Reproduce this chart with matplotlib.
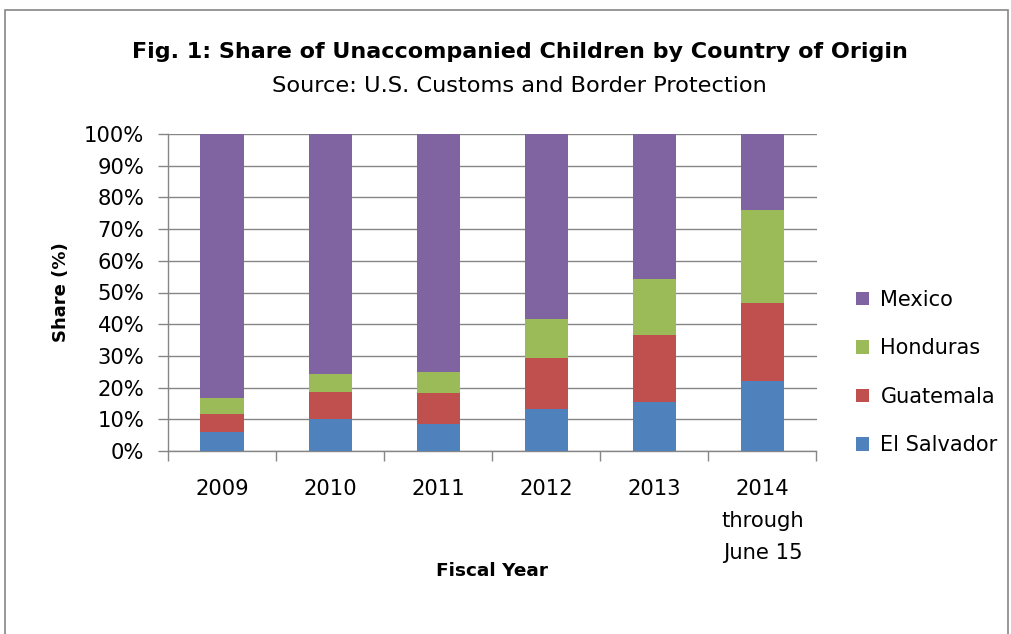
import matplotlib
matplotlib.use("Agg")
import matplotlib.pyplot as plt
from matplotlib.patches import Patch, Rectangle
from matplotlib.ticker import FixedLocator, PercentFormatter
import numpy as np

YEARS = ["2009", "2010", "2011", "2012", "2013", "2014\nthrough\nJune 15"]
EL_SALVADOR = [6.1, 10.2, 8.6, 13.3, 15.6, 22.0]
GUATEMALA = [5.7, 8.4, 9.8, 16.0, 21.0, 24.7]
HONDURAS = [4.9, 5.6, 6.4, 12.4, 17.8, 29.3]
MEXICO = [83.3, 75.8, 75.2, 58.3, 45.6, 24.0]

SERIES = [
    ("El Salvador", EL_SALVADOR, "#4f81bd"),
    ("Guatemala", GUATEMALA, "#c0504d"),
    ("Honduras", HONDURAS, "#9bbb59"),
    ("Mexico", MEXICO, "#8064a2"),
]

W, H = 1011, 634
plt.rcParams.update({"font.family": "DejaVu Sans", "text.color": "black"})
fig = plt.figure(figsize=(W / 100, H / 100), dpi=100, facecolor="white")
ax = fig.add_axes([168 / W, 1 - 451 / H, (816.5 - 168) / W, (451 - 134) / H])

grey = "#868686"
x = np.arange(len(YEARS))
bottom = np.zeros(len(YEARS))
for name, values, color in SERIES:
    ax.bar(x, values, width=0.4, bottom=bottom, color=color, linewidth=0, zorder=3)
    bottom += np.array(values)

ax.set_xlim(-0.5, len(YEARS) - 0.5)
ax.set_ylim(0, 100)
ax.set_yticks(np.arange(0, 101, 10))
ax.yaxis.set_major_formatter(PercentFormatter(decimals=0))
ax.grid(axis="y", color=grey, linewidth=1.0, zorder=0)
ax.set_axisbelow(True)

ax.set_xticks(x)
ax.set_xticklabels(YEARS, linespacing=1.75)
ax.xaxis.set_minor_locator(FixedLocator(np.arange(-0.5, len(YEARS), 1.0)))
ax.tick_params(axis="x", which="major", length=0, pad=20, labelsize=15.2)
ax.tick_params(axis="x", which="minor", length=7, color=grey, width=1)
ax.tick_params(axis="y", length=7, color=grey, width=1, labelsize=15.2, pad=10)

for side in ("top", "right"):
    ax.spines[side].set_visible(False)
for side in ("left", "bottom"):
    ax.spines[side].set_color(grey)
    ax.spines[side].set_linewidth(1.0)

ax.set_ylabel("Share (%)", fontsize=13, fontweight="bold", labelpad=10)
fig.text(492 / W, 1 - 571 / H, "Fiscal Year", fontsize=13.3, fontweight="bold",
         ha="center", va="center")

fig.text(520 / W, 1 - 52 / H,
         "Fig. 1: Share of Unaccompanied Children by Country of Origin",
         fontsize=16, fontweight="bold", ha="center", va="center")
fig.text(519 / W, 1 - 86 / H, "Source: U.S. Customs and Border Protection",
         fontsize=16.2, ha="center", va="center")

handles = [Patch(facecolor=c, edgecolor="none", label=n) for n, _, c in SERIES[::-1]]
fig.legend(handles=handles, loc="center left", bbox_to_anchor=(846 / W, 1 - 372.5 / H),
           frameon=False, fontsize=15, handlelength=0.6, handleheight=0.6,
           handletextpad=0.55, labelspacing=1.37, borderpad=0)

fig.add_artist(Rectangle((5 / W, -0.1), (1008 - 5) / W, 1.1 - 10 / H,
                         transform=fig.transFigure, fill=False,
                         edgecolor=grey, linewidth=1.2))

fig.savefig("out.png", dpi=100, facecolor="white")
